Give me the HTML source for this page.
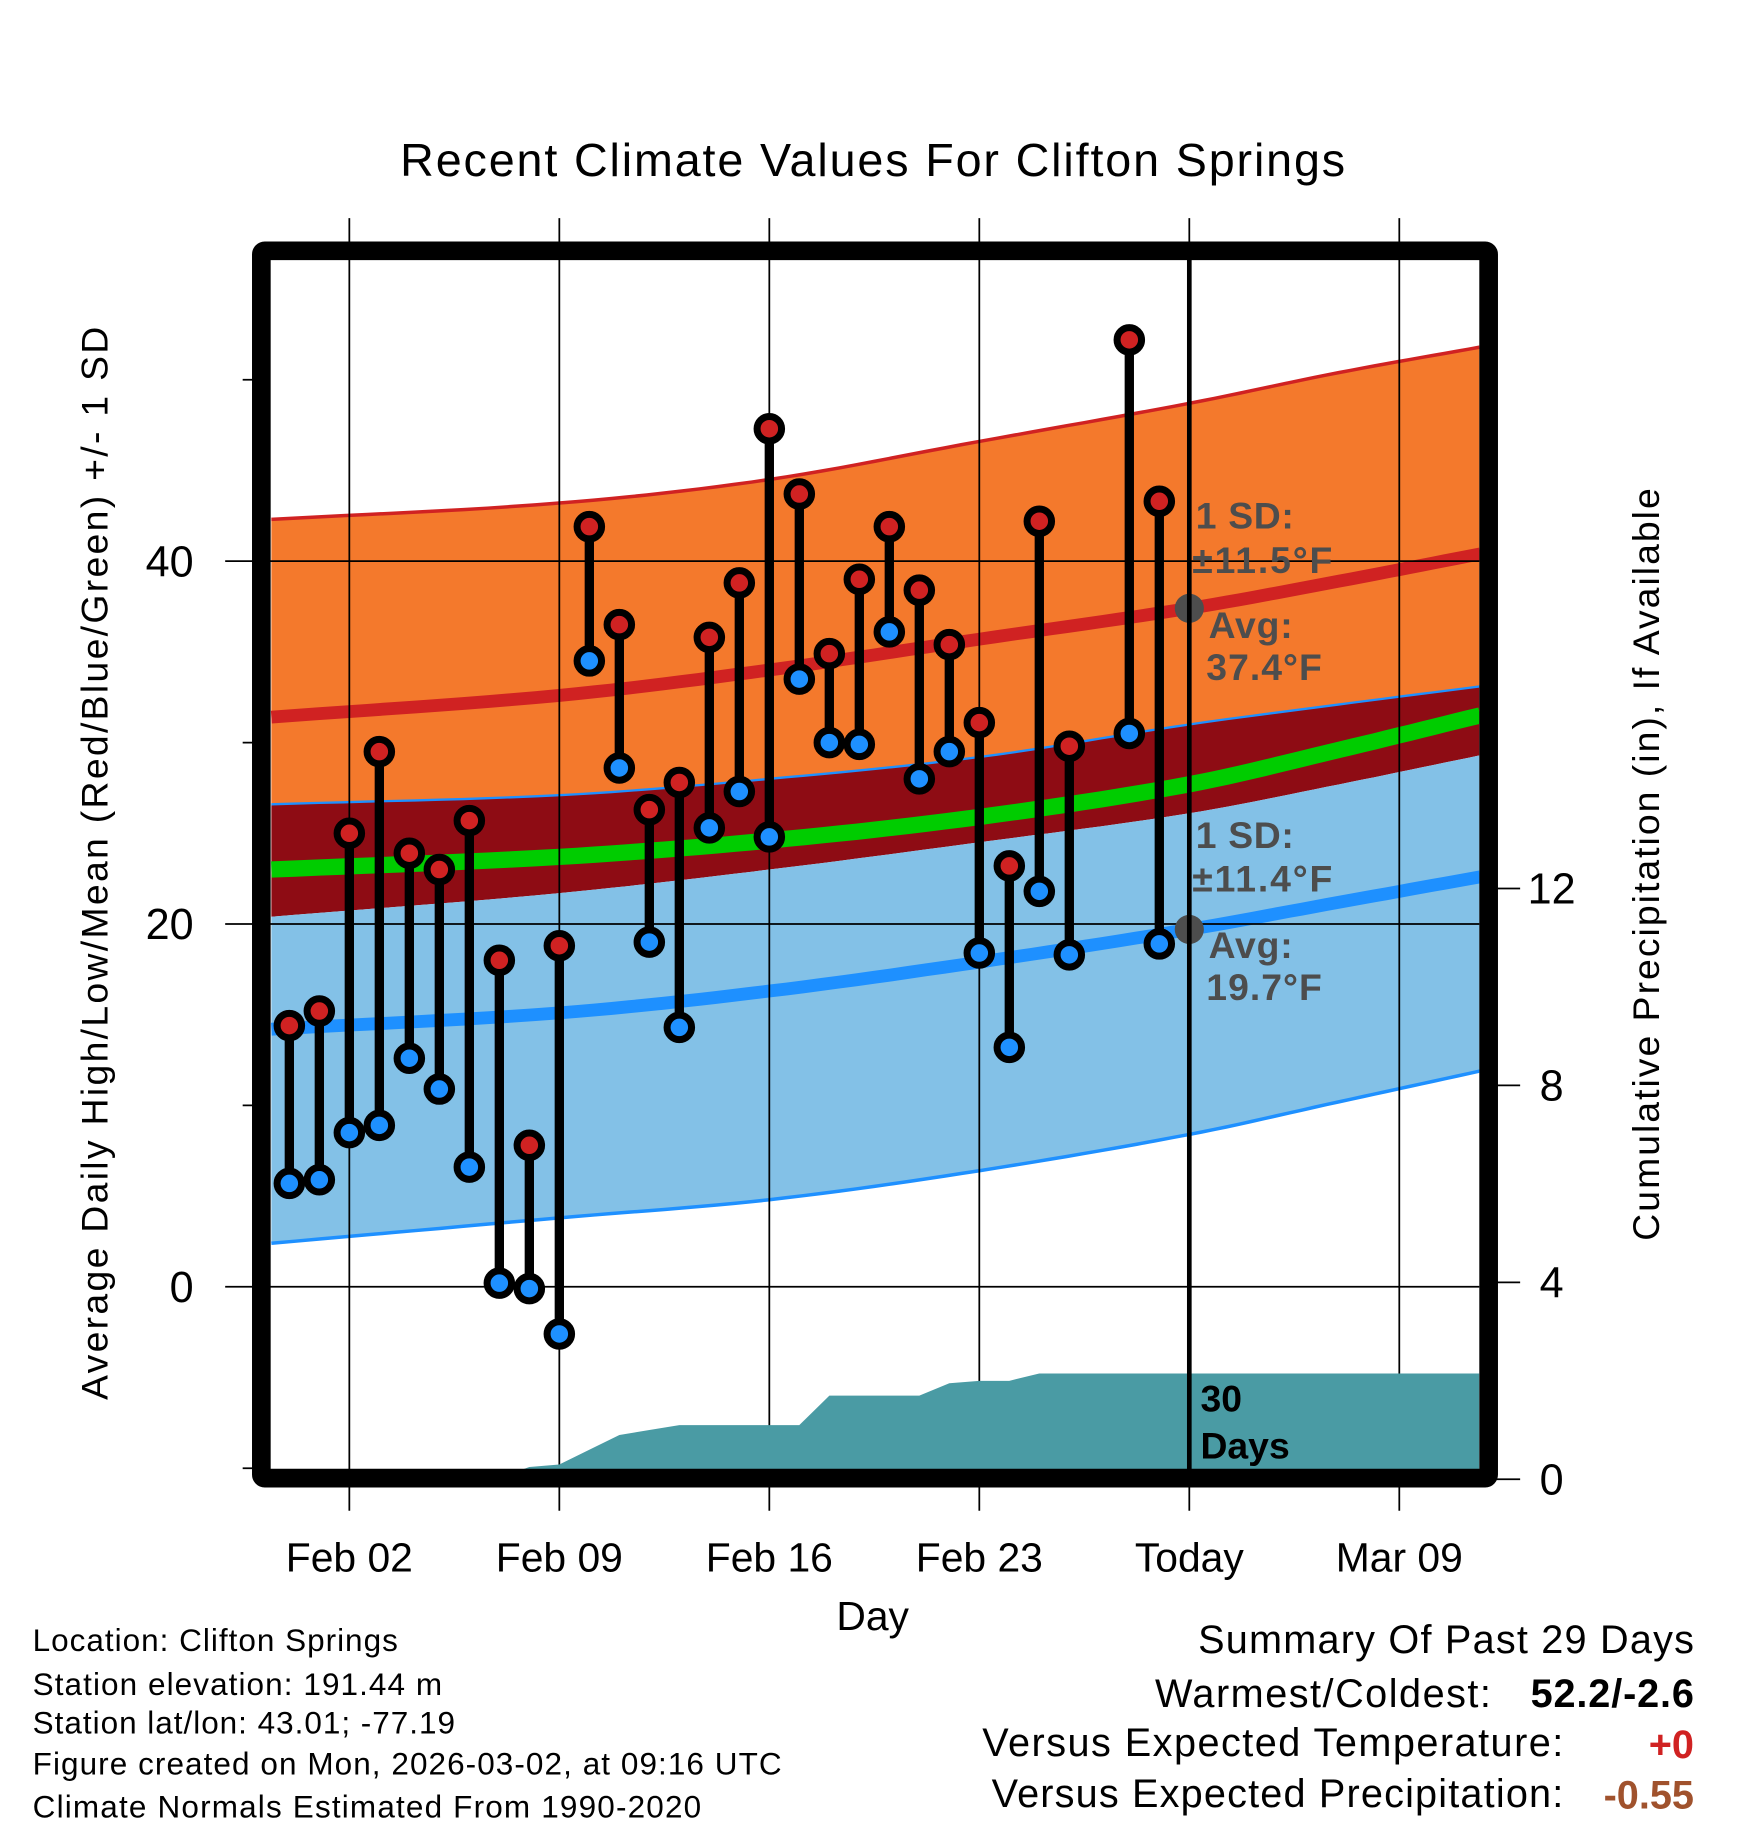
<!DOCTYPE html>
<html><head><meta charset="utf-8"><style>
html,body{margin:0;padding:0;background:#fff}
svg{display:block}
text{font-family:"Liberation Sans",sans-serif}
</style></head><body>
<svg id="chart" width="1748" height="1828" viewBox="0 0 1498.3 1566.9" xmlns="http://www.w3.org/2000/svg">
<defs><clipPath id="plotclip"><rect x="232" y="222" width="1036" height="1038"/></clipPath></defs>
<g id="bands" clip-path="url(#plotclip)"></g>
<g id="grid"></g>
<g id="precip" clip-path="url(#plotclip)"></g>
<g id="marks"></g>
<g id="frame"></g>
<g id="labels"></g>
</svg>
<script>
// ---- data ----
const dayLabels = ["Jan 31","Feb 01","Feb 02","Feb 03","Feb 04","Feb 05","Feb 06","Feb 07","Feb 08","Feb 09","Feb 10","Feb 11","Feb 12","Feb 13","Feb 14","Feb 15","Feb 16","Feb 17","Feb 18","Feb 19","Feb 20","Feb 21","Feb 22","Feb 23","Feb 24","Feb 25","Feb 26","Feb 27","Feb 28","Mar 01"];
const highs = [14.4,15.2,25.0,29.5,23.9,23.0,25.7,18.0,7.8,18.8,41.9,36.5,26.3,27.8,35.8,38.8,47.3,43.7,34.9,39.0,41.9,38.4,35.4,31.1,23.2,42.2,29.8,null,52.2,43.3];
const lows  = [5.7,5.9,8.5,8.9,12.6,10.9,6.6,0.2,-0.1,-2.6,34.5,28.6,19.0,14.3,25.3,27.3,24.8,33.5,30.0,29.9,36.1,28.0,29.5,18.4,13.2,21.8,18.3,null,30.5,18.9];
const precipCum = [0,0,0,0,0,0,0,0.03,0.25,0.3,0.6,0.9,1.0,1.1,1.1,1.1,1.1,1.1,1.7,1.7,1.7,1.7,1.95,2.0,2.0,2.15,2.15,2.15,2.15,2.15,2.15,2.15,2.15,2.15,2.15,2.15,2.15,2.15,2.15,2.15,2.15,2.15];
// normals sampled at day offsets (days from Jan 31)
const normDays   = [-0.6,9,16,23,30,35,39.7];
const highUpper  = [42.3,43.2,44.5,46.6,48.7,50.4,51.8];
const highMean   = [31.4,32.6,34.0,35.7,37.4,38.9,40.4];
const highLower  = [26.6,27.1,28.0,29.2,31.0,32.1,33.1];
const meanAvg    = [23.0,23.7,24.6,25.9,27.7,29.6,31.5];
const lowUpper   = [20.4,21.7,23.0,24.5,26.1,27.7,29.3];
const lowMean    = [14.2,15.1,16.3,17.9,19.7,21.2,22.6];
const lowLower   = [2.4,3.8,4.8,6.4,8.4,10.2,11.9];
const xTickDays  = [2,9,16,23,30,37];
const xTickLabels= ["Feb 02","Feb 09","Feb 16","Feb 23","Today","Mar 09"];
const yTicks     = [40,20,0];
const yMinor     = [50,30,10,-10];
const pTicks     = [0,4,8,12];

// ---- scales ----
const X0=248, DX=25.714;
const x = d => X0 + d*DX;
const y = t => 1103 - t*15.55;
const yp = p => 1268 - p*42.2;
const NS="http://www.w3.org/2000/svg";
function mk(tag, attrs, parent){const e=document.createElementNS(NS,tag);for(const k in attrs)e.setAttribute(k,attrs[k]);parent.appendChild(e);return e;}
function curve(days, vals){
  const pts=[];
  for(let i=0;i<days.length-1;i++){
    const h=days[i+1]-days[i];
    const m1 = i>0 ? (vals[i+1]-vals[i-1])/(days[i+1]-days[i-1]) : (vals[1]-vals[0])/(days[1]-days[0]);
    const m2 = i<days.length-2 ? (vals[i+2]-vals[i])/(days[i+2]-days[i]) : (vals[i+1]-vals[i])/h;
    for(let s=0;s<12;s++){const t=s/12;
      const h00=2*t*t*t-3*t*t+1,h10=t*t*t-2*t*t+t,h01=-2*t*t*t+3*t*t,h11=t*t*t-t*t;
      const v=h00*vals[i]+h10*h*m1+h01*vals[i+1]+h11*h*m2;
      pts.push([x(days[i]+h*t),y(v)]);}
  }
  pts.push([x(days[days.length-1]),y(vals[vals.length-1])]);
  return pts;
}
const ps = pts => pts.map(p=>p[0].toFixed(1)+","+p[1].toFixed(1)).join(" ");
function band(top,bot,fill,g,name){
  const a=curve(normDays,top), b=curve(normDays,bot).reverse();
  const el=mk("polygon",{points:ps(a.concat(b)),fill:fill},g);
  
  
}
function line(vals,color,w,g,name){
  const el=mk("polyline",{points:ps(curve(normDays,vals)),fill:"none",stroke:color,"stroke-width":w},g);
  
  
}
const gB=document.getElementById("bands");
band(highUpper,highLower,"#f4792c",gB,"high-sd-band");
band(highLower,lowUpper,"#8e0c14",gB,"mean-band");
band(lowUpper,lowLower,"#83c1e7",gB,"low-sd-band");
line(highUpper,"#d02222",3,gB,"high-upper-line");
line(highMean,"#d02222",11,gB,"high-mean-line");
line(highLower,"#1e90ff",2,gB,"high-lower-line");
line(meanAvg,"#00cc00",14,gB,"mean-avg-line");
line(lowMean,"#1e90ff",11,gB,"low-mean-line");
line(lowLower,"#1e90ff",3,gB,"low-lower-line");

// grid
const gG=document.getElementById("grid");
xTickDays.forEach(d=>{
  const l=mk("line",{x1:x(d),x2:x(d),y1:187,y2:1295,stroke:"#000","stroke-width":1.5},gG);
  
  
});
yTicks.forEach(t=>{
  const l=mk("line",{x1:193,x2:1268,y1:y(t),y2:y(t),stroke:"#000","stroke-width":1.5},gG);
  
  
});
yMinor.forEach(t=>{
  const l=mk("line",{x1:208,x2:224,y1:y(t),y2:y(t),stroke:"#000","stroke-width":1.5},gG);
  
  
});
pTicks.forEach(p=>{
  const l=mk("line",{x1:1276,x2:1303,y1:yp(p),y2:yp(p),stroke:"#000","stroke-width":1.5},gG);
  
  
});

// precip
const gP=document.getElementById("precip");
let pp=[[232,yp(0)]];
precipCum.forEach((v,i)=>pp.push([x(i),yp(v)]));
pp.push([1268,yp(precipCum[precipCum.length-1])],[1268,yp(0)]);
const pa=mk("polygon",{points:ps(pp),fill:"#4a9ba4"},gP);



// today line
const tl=mk("line",{x1:x(30),x2:x(30),y1:215,y2:1268,stroke:"#000","stroke-width":4},gG.parentNode);



// observations
const gM=document.getElementById("marks");
highs.forEach((h,i)=>{
  const lo=lows[i]; if(h===null||lo===null) return;
  const g=mk("g",{},gM);
  
  
  mk("line",{x1:x(i),x2:x(i),y1:y(h),y2:y(lo),stroke:"#000","stroke-width":8},g);
  const c1=mk("circle",{cx:x(i),cy:y(h),r:10.5,fill:"#d02222",stroke:"#000","stroke-width":6},g);
  
  
  const c2=mk("circle",{cx:x(i),cy:y(lo),r:10.5,fill:"#1e90ff",stroke:"#000","stroke-width":6},g);
  
  
});

// frame
const gF=document.getElementById("frame");
const fr=mk("rect",{x:224,y:215,width:1052,height:1052,fill:"none",stroke:"#000","stroke-width":16,rx:3},gF);



// avg dots
[[37.4],[19.7]].forEach((v,k)=>{
  const c=mk("circle",{cx:x(30),cy:y(v[0]),r:12.5,fill:"#4d4d4d"},gF);
  
  
});

// labels
const gL=document.getElementById("labels");
function txt(s,attrs,name){const e=mk("text",attrs,gL);e.textContent=s;
  
  
  return e;}
txt("Recent Climate Values For Clifton Springs",{x:748,y:151,"font-size":40,"text-anchor":"middle",textLength:810},"chart-title");
xTickDays.forEach((d,i)=>txt(xTickLabels[i],{x:x(d),y:1347,"font-size":35,"text-anchor":"middle"},"x-tick-label"));
txt("Day",{x:748,y:1397,"font-size":35,"text-anchor":"middle"},"x-axis-title");
yTicks.forEach(t=>txt(String(t),{x:166,y:y(t)+13,"font-size":37,"text-anchor":"end"},"y-tick-label"));
pTicks.forEach(p=>txt(String(p),{x:1330,y:yp(p)+13,"font-size":37,"text-anchor":"middle"},"precip-tick-label"));
txt("Average Daily High/Low/Mean (Red/Blue/Green) +/- 1 SD",{x:0,y:0,"font-size":32,"text-anchor":"middle",textLength:920,transform:"translate(92,740) rotate(-90)"},"y-axis-title");
txt("Cumulative Precipitation (in), If Available",{x:0,y:0,"font-size":32,"text-anchor":"middle",textLength:645,transform:"translate(1422,741) rotate(-90)"},"precip-axis-title");
const ann={fill:"#4d4d4d","font-size":32,"font-weight":"bold"};
const A=(s,xx,yy,n,tl)=>txt(s,Object.assign({x:xx,y:yy,textLength:tl},ann),n);
A("1 SD:",1025,453,"high-sd-label",84);A("±11.5°F",1022,491,"high-sd-value",120);
A("Avg:",1036,547,"high-avg-label",72);A("37.4°F",1034,583,"high-avg-value",99);
A("1 SD:",1025,727,"low-sd-label",84);A("±11.4°F",1022,764,"low-sd-value",120);
A("Avg:",1036,821,"low-avg-label",72);A("19.7°F",1034,857,"low-avg-value",99);
txt("30",{x:1029,y:1210,"font-size":32,"font-weight":"bold"},"days-count");
txt("Days",{x:1029,y:1250,"font-size":32,"font-weight":"bold"},"days-label");
const info=["Location: Clifton Springs","Station elevation: 191.44 m","Station lat/lon: 43.01; -77.19","Figure created on Mon, 2026-03-02, at 09:16 UTC","Climate Normals Estimated From 1990-2020"];
const infoY=[1415,1453,1486,1521,1558];
const infoW=[313,351,362,642,573];
info.forEach((s,i)=>txt(s,{x:28,y:infoY[i],"font-size":27,textLength:infoW[i]},"station-info"));
txt("Summary Of Past 29 Days",{x:1452,y:1417,"font-size":34,"text-anchor":"end",textLength:425},"summary-title");
txt("Warmest/Coldest:",{x:1278,y:1463,"font-size":34,"text-anchor":"end",textLength:288},"warmest-coldest-label");
txt("52.2/-2.6",{x:1452,y:1463,"font-size":34,"font-weight":"bold","text-anchor":"end",textLength:140},"warmest-coldest-value");
txt("Versus Expected Temperature:",{x:1340,y:1505,"font-size":34,"text-anchor":"end",textLength:498},"temp-departure-label");
txt("+0",{x:1452,y:1507,"font-size":34,"font-weight":"bold","text-anchor":"end",fill:"#d02222"},"temp-departure-value");
txt("Versus Expected Precipitation:",{x:1340,y:1549,"font-size":34,"text-anchor":"end",textLength:490},"precip-departure-label");
txt("-0.55",{x:1452,y:1550,"font-size":34,"font-weight":"bold","text-anchor":"end",fill:"#a0522d"},"precip-departure-value");
</script>
</body></html>
